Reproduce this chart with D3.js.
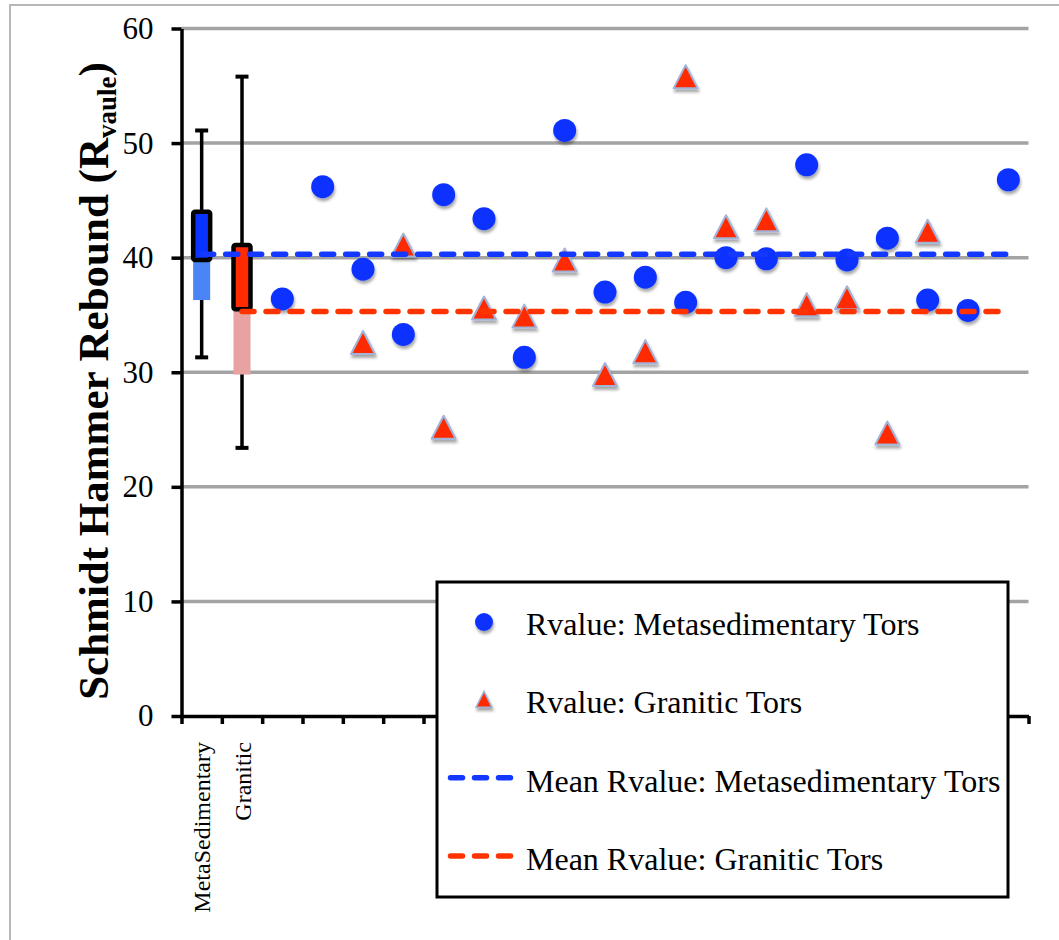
<!DOCTYPE html>
<html>
<head>
<meta charset="utf-8">
<script src="https://cdn.jsdelivr.net/npm/d3@7"></script>
<style>
  body { margin: 0; background: #fff; }
  svg { display: block; }
  text { font-family: "Liberation Serif", "Times New Roman", serif; }
</style>
</head>
<body>
<svg id="chart" width="1059" height="940"></svg>
<script>
// ---- data -------------------------------------------------------------
const categories = ["MetaSedimentary", "Granitic",
  "Site 3", "Site 4", "Site 5", "Site 6", "Site 7", "Site 8", "Site 9", "Site 10",
  "Site 11", "Site 12", "Site 13", "Site 14", "Site 15", "Site 16", "Site 17",
  "Site 18", "Site 19", "Site 20", "Site 21"];
const tickLabels = ["MetaSedimentary", "Granitic"];
const yTicks = [0, 10, 20, 30, 40, 50, 60];

// individual tor readings
const metaSites = ["Site 3", "Site 4", "Site 5", "Site 6", "Site 7", "Site 8", "Site 9",
  "Site 10", "Site 11", "Site 12", "Site 13", "Site 14", "Site 15", "Site 16", "Site 17",
  "Site 18", "Site 19", "Site 20", "Site 21"];
const metaRvalues = [36.4, 46.2, 39.0, 33.3, 45.5, 43.4, 31.3, 51.1, 37.0, 38.3,
  36.1, 40.0, 39.9, 48.1, 39.8, 41.7, 36.3, 35.4, 46.8];

const graniticSites = ["Site 5", "Site 6", "Site 7", "Site 8", "Site 9", "Site 10",
  "Site 11", "Site 12", "Site 13", "Site 14", "Site 15", "Site 16", "Site 17",
  "Site 18", "Site 19"];
const graniticRvalues = [32.6, 41.1, 25.2, 35.6, 34.9, 39.8, 29.8, 31.8, 55.8,
  42.7, 43.3, 35.9, 36.5, 24.7, 42.3];

// box-plot summaries per rock type
const boxGroups = ["MetaSedimentary", "Granitic"];
const boxMin    = [31.3, 23.4];
const boxQ1     = [36.3, 29.8];
const boxMedian = [39.8, 35.5];
const boxQ3     = [44.0, 41.1];
const boxMax    = [51.1, 55.8];
const meanRvalue = [40.3, 35.3];

// ---- layout ------------------------------------------------------------
const svg = d3.select("#chart");
const plot = { left: 181.5, right: 1028.5, top: 28.5, bottom: 716 };

const BLUE = "#0b33ff", RED = "#ff2a00";
const boxDark  = [BLUE, RED];
const boxLight = ["#4a84f6", "#e8a2a2"];
const meanColor = ["#1438ff", "#ff3300"];

const x = d3.scaleBand().domain(categories).range([plot.left, plot.right]).padding(0);
const cx = c => x(c) + x.bandwidth() / 2;
const y = d3.scaleLinear().domain([0, 60]).range([plot.bottom, plot.top]);

const defs = svg.append("defs");
defs.append("filter").attr("id", "shadow")
  .attr("x", "-60%").attr("y", "-60%").attr("width", "220%").attr("height", "220%")
  .append("feDropShadow")
  .attr("dx", 1).attr("dy", 3).attr("stdDeviation", 1.8)
  .attr("flood-color", "#000").attr("flood-opacity", 0.35);

// outer frame
svg.append("rect")
  .attr("x", 10).attr("y", 5).attr("width", 1200).attr("height", 1100)
  .attr("fill", "none").attr("stroke", "#b8b8b8").attr("stroke-width", 2);

// horizontal gridlines
svg.append("g").selectAll("line")
  .data(yTicks.filter(v => v > 0))
  .join("line")
  .attr("x1", plot.left).attr("x2", plot.right)
  .attr("y1", d => y(d)).attr("y2", d => y(d))
  .attr("stroke", "#a3a3a3").attr("stroke-width", 3.5);

// y axis
const yAxis = svg.append("g")
  .attr("transform", `translate(${plot.left},0)`)
  .call(d3.axisLeft(y).tickValues(yTicks).tickSize(10).tickSizeOuter(0).tickPadding(18));
yAxis.select(".domain").attr("stroke", "#000").attr("stroke-width", 3.5);
yAxis.selectAll(".tick line").attr("stroke", "#000").attr("stroke-width", 3.5);
yAxis.selectAll(".tick text")
  .attr("font-family", "Liberation Serif").attr("font-size", 31).attr("fill", "#000");

// y axis title
const title = svg.append("text")
  .attr("transform", `translate(108,381) rotate(-90)`)
  .attr("text-anchor", "middle")
  .attr("font-weight", "bold").attr("font-size", 43).attr("fill", "#000");
title.append("tspan").text("Schmidt Hammer Rebound (R");
title.append("tspan").attr("font-size", 27).attr("dy", 8).text("vaule");
title.append("tspan").attr("dy", -8).text(")");

// x axis: baseline with ticks on category boundaries
const xEdge = d3.scaleLinear().domain([0, categories.length]).range([plot.left, plot.right]);
const xAxisTicks = svg.append("g")
  .attr("transform", `translate(0,${plot.bottom})`)
  .call(d3.axisBottom(xEdge).tickValues(d3.range(categories.length + 1))
    .tickSize(8).tickSizeOuter(0).tickFormat(""));
xAxisTicks.select(".domain").attr("stroke", "#000").attr("stroke-width", 3.5);
xAxisTicks.selectAll(".tick line").attr("stroke", "#000").attr("stroke-width", 3.5);

// x axis category labels (rotated)
const xAxisLabels = svg.append("g")
  .attr("transform", `translate(0,${plot.bottom})`)
  .call(d3.axisBottom(x).tickSize(0).tickFormat(d => tickLabels.includes(d) ? d : ""));
xAxisLabels.select(".domain").remove();
xAxisLabels.selectAll(".tick text")
  .attr("transform", "rotate(-90)")
  .attr("x", -26).attr("y", 8.5).attr("dy", null)
  .attr("text-anchor", "end")
  .attr("font-family", "Liberation Serif").attr("font-size", 24).attr("fill", "#000");

// ---- box plots -------------------------------------------------------
const boxW = 17;
const boxes = svg.append("g");
boxGroups.forEach((g, i) => {
  const c = cx(g);
  // whisker
  boxes.append("line")
    .attr("x1", c).attr("x2", c).attr("y1", y(boxMax[i])).attr("y2", y(boxMin[i]))
    .attr("stroke", "#000").attr("stroke-width", 3.5);
  [boxMax[i], boxMin[i]].forEach(v => {
    boxes.append("line")
      .attr("x1", c - 6.5).attr("x2", c + 6.5).attr("y1", y(v)).attr("y2", y(v))
      .attr("stroke", "#000").attr("stroke-width", 4);
  });
  // lower box: Q1 to median
  boxes.append("rect")
    .attr("x", c - boxW / 2).attr("width", boxW)
    .attr("y", y(boxMedian[i])).attr("height", y(boxQ1[i]) - y(boxMedian[i]))
    .attr("fill", boxLight[i]);
  // upper box: median to Q3
  boxes.append("rect")
    .attr("x", c - boxW / 2).attr("width", boxW)
    .attr("y", y(boxQ3[i])).attr("height", y(boxMedian[i]) - y(boxQ3[i]))
    .attr("rx", 2)
    .attr("fill", boxDark[i]).attr("stroke", "#000").attr("stroke-width", 4.5);
});

// ---- markers ---------------------------------------------------------
const triW = 24, triH = 23;
const triPath = `M0,${-triH / 2}L${triW / 2},${triH / 2}L${-triW / 2},${triH / 2}Z`;

svg.append("g").attr("filter", "url(#shadow)")
  .selectAll("path")
  .data(graniticSites.map((s, i) => ({ s, v: graniticRvalues[i] })))
  .join("path")
  .attr("d", triPath)
  .attr("transform", d => `translate(${cx(d.s)},${y(d.v)})`)
  .attr("fill", RED).attr("stroke", "#a3b3d6").attr("stroke-width", 2)
  .attr("stroke-linejoin", "round");

svg.append("g").attr("filter", "url(#shadow)")
  .selectAll("circle")
  .data(metaSites.map((s, i) => ({ s, v: metaRvalues[i] })))
  .join("circle")
  .attr("cx", d => cx(d.s)).attr("cy", d => y(d.v)).attr("r", 11.5)
  .attr("fill", BLUE);

// ---- mean lines ------------------------------------------------------
const lastCat = categories[categories.length - 1];
boxGroups.forEach((g, i) => {
  svg.append("line")
    .attr("x1", cx(g)).attr("x2", cx(lastCat))
    .attr("y1", y(meanRvalue[i])).attr("y2", y(meanRvalue[i]))
    .attr("stroke", meanColor[i]).attr("stroke-width", 5.5)
    .attr("stroke-linecap", "round").attr("stroke-dasharray", "12 12");
});

// ---- legend ------------------------------------------------------------
const legendItems = [
  { label: "Rvalue: Metasedimentary Tors", type: "circle", color: BLUE },
  { label: "Rvalue: Granitic Tors", type: "triangle", color: RED },
  { label: "Mean Rvalue: Metasedimentary Tors", type: "dash", color: meanColor[0] },
  { label: "Mean Rvalue: Granitic Tors", type: "dash", color: meanColor[1] }
];
const legend = svg.append("g").attr("transform", "translate(437,582)");
legend.append("rect")
  .attr("width", 571).attr("height", 315)
  .attr("fill", "#fff").attr("stroke", "#000").attr("stroke-width", 3);

const rowY = d3.scalePoint().domain(d3.range(legendItems.length)).range([42, 277]);
legendItems.forEach((it, i) => {
  const row = legend.append("g").attr("transform", `translate(0,${rowY(i)})`);
  if (it.type === "circle") {
    row.append("circle").attr("cx", 47).attr("cy", -2).attr("r", 9)
      .attr("fill", it.color).attr("filter", "url(#shadow)");
  } else if (it.type === "triangle") {
    row.append("path").attr("d", "M0,-8L8,8L-8,8Z")
      .attr("transform", "translate(47,-3)")
      .attr("fill", it.color).attr("stroke", "#a3b3d6").attr("stroke-width", 1.5)
      .attr("filter", "url(#shadow)");
  } else {
    row.append("line").attr("x1", 13.5).attr("x2", 73.5).attr("y1", -3).attr("y2", -3)
      .attr("stroke", it.color).attr("stroke-width", 5.5)
      .attr("stroke-linecap", "round").attr("stroke-dasharray", "12 12");
  }
  row.append("text").attr("x", 89).attr("y", 11)
    .attr("font-size", 32).attr("fill", "#000").text(it.label);
});
</script>
</body>
</html>
